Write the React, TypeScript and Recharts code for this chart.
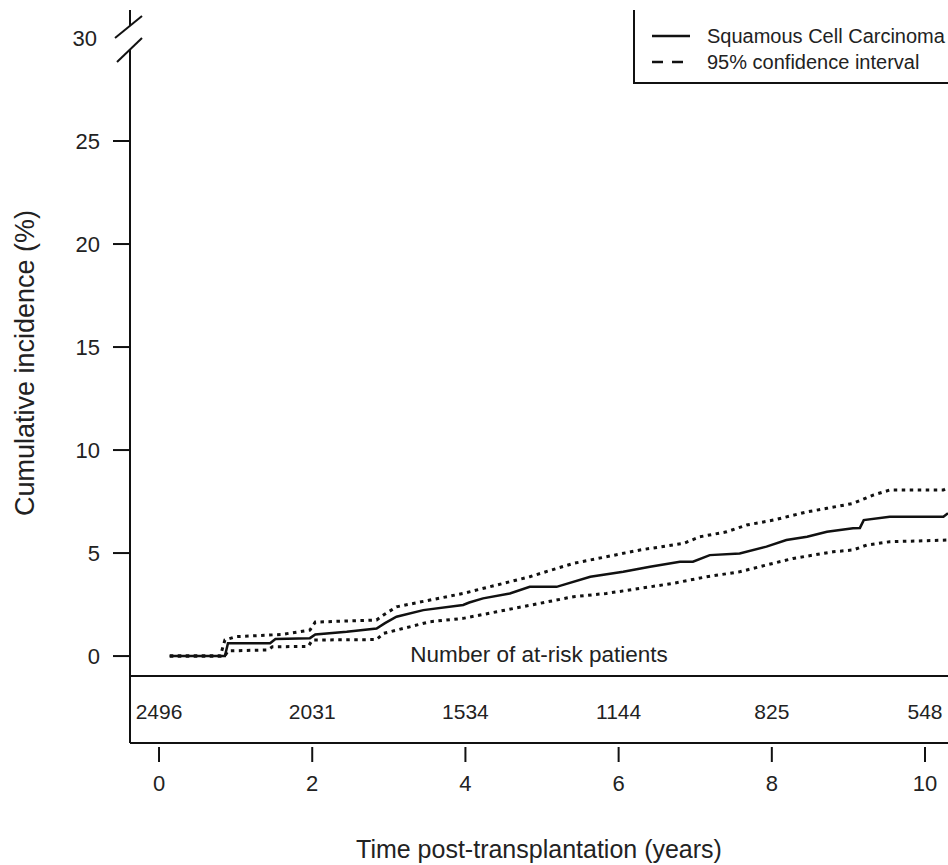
import React from 'react';
import { ComposedChart, Line, XAxis, YAxis, Scatter, ReferenceLine, Legend } from 'recharts';

// ---- data ----
const estTimes = [0.14, 0.86, 0.9, 1.45, 1.52, 1.97, 2.04, 2.45, 2.84, 2.95, 3.1, 3.45, 3.97, 4.05, 4.23, 4.58, 4.84, 5.19, 5.63, 6.06, 6.41, 6.8, 6.97, 7.19, 7.58, 7.93, 8.19, 8.46, 8.72, 9.06, 9.15, 9.2, 9.54, 10.24, 10.3];
const estValues = [0, 0, 0.62, 0.62, 0.83, 0.87, 1.05, 1.18, 1.34, 1.6, 1.91, 2.23, 2.48, 2.6, 2.8, 3.04, 3.36, 3.36, 3.85, 4.09, 4.34, 4.58, 4.58, 4.9, 4.98, 5.31, 5.63, 5.79, 6.03, 6.2, 6.22, 6.6, 6.76, 6.76, 6.93];

const hiTimes = [0.14, 0.8, 0.86, 1.0, 1.6, 1.97, 2.04, 2.84, 2.93, 3.1, 3.54, 3.97, 4.41, 4.84, 5.1, 5.41, 5.84, 6.28, 6.85, 7.06, 7.41, 7.67, 8.02, 8.46, 8.72, 9.06, 9.33, 9.54, 10.24, 10.3];
const hiValues = [0, 0, 0.78, 0.94, 1.05, 1.26, 1.65, 1.75, 1.99, 2.39, 2.72, 3.04, 3.45, 3.85, 4.15, 4.5, 4.82, 5.15, 5.47, 5.79, 6.03, 6.36, 6.6, 7.0, 7.17, 7.41, 7.82, 8.06, 8.06, 8.17];

const loTimes = [0.14, 0.86, 0.9, 1.42, 1.48, 1.95, 2.0, 2.84, 2.93, 3.54, 3.97, 4.41, 4.97, 5.41, 5.84, 6.41, 6.71, 7.15, 7.58, 7.93, 8.28, 8.54, 8.8, 9.06, 9.24, 9.54, 10.3];
const loValues = [0, 0, 0.25, 0.3, 0.45, 0.47, 0.78, 0.8, 1.1, 1.67, 1.83, 2.15, 2.56, 2.88, 3.04, 3.36, 3.53, 3.85, 4.09, 4.42, 4.74, 4.9, 5.06, 5.15, 5.39, 5.55, 5.63];

const riskTimes = [0, 2, 4, 6, 8, 10];
const riskCounts = [2496, 2031, 1534, 1144, 825, 548];

const xTicks = [0, 2, 4, 6, 8, 10];
const yTicks = [0, 5, 10, 15, 20, 25, 30];

const seriesName = 'Squamous Cell Carcinoma';
const ciName = '95% confidence interval';
const xTitle = 'Time post-transplantation (years)';
const yTitle = 'Cumulative incidence (%)';
const tableTitle = 'Number of at-risk patients';

// ---- layout / style ----
const FONT = '"Liberation Sans", Arial, Helvetica, sans-serif';
const INK = '#111';
const TXT = '#222';
const X_DOMAIN: [number, number] = [-0.379, 10.3];
const Y_DOMAIN: [number, number] = [-4.22, 31.36];
const TABLE_TOP = -0.97;
const RISK_ROW = -2.67;

const toSeries = (ts: number[], vs: number[]) => ts.map((t, i) => ({ t, v: vs[i] }));
const estData = toSeries(estTimes, estValues);
const hiData = toSeries(hiTimes, hiValues);
const loData = toSeries(loTimes, loValues);
const riskData = riskTimes.map((t, i) => ({ t, y: RISK_ROW, n: riskCounts[i] }));

const YTick = (props: any) => {
  const { x, y, payload } = props;
  const v = payload.value;
  if (v === 30) {
    return (
      <g>
        <rect x={x - 5} y={y - 12} width={10} height={24} fill="#fff" />
        <line x1={x - 15} y1={y} x2={x + 12} y2={y - 22} stroke={INK} strokeWidth={2} />
        <line x1={x - 13} y1={y + 24} x2={x + 12} y2={y} stroke={INK} strokeWidth={2} />
        <text x={x - 33} y={y} textAnchor="end" dominantBaseline="central" fontSize={22} fontFamily={FONT} fill={TXT}>
          {v}
        </text>
      </g>
    );
  }
  return (
    <g>
      <line x1={x - 17} y1={y} x2={x} y2={y} stroke={INK} strokeWidth={2} />
      <text x={x - 30} y={y} textAnchor="end" dominantBaseline="central" fontSize={22} fontFamily={FONT} fill={TXT}>
        {v}
      </text>
    </g>
  );
};

const XTick = (props: any) => {
  const { x, y, payload } = props;
  return (
    <g>
      <line x1={x} y1={y + 4} x2={x} y2={y + 19} stroke={INK} strokeWidth={2} />
      <text x={x} y={y + 40} textAnchor="middle" dominantBaseline="central" fontSize={22} fontFamily={FONT} fill={TXT}>
        {payload.value}
      </text>
    </g>
  );
};

const RiskLabel = (props: any) => {
  const { cx, cy, payload } = props;
  return (
    <text x={cx} y={cy} textAnchor="middle" dominantBaseline="central" fontSize={21} fontFamily={FONT} fill={TXT}>
      {payload.n}
    </text>
  );
};

const LegendBox = () => (
  <svg width={330} height={74} style={{ display: 'block' }}>
    <line x1={1} y1={0} x2={1} y2={73} stroke={INK} strokeWidth={2} />
    <line x1={0} y1={73} x2={330} y2={73} stroke={INK} strokeWidth={2} />
    <line x1={19} y1={26} x2={57} y2={26} stroke={INK} strokeWidth={2.5} />
    <text x={74} y={26} dominantBaseline="central" fontSize={20} fontFamily={FONT} fill={TXT}>
      {seriesName}
    </text>
    <line x1={19} y1={52} x2={57} y2={52} stroke={INK} strokeWidth={2.5} strokeDasharray="11 9" />
    <text x={74} y={52} dominantBaseline="central" fontSize={20} fontFamily={FONT} fill={TXT}>
      {ciName}
    </text>
  </svg>
);

export default function App() {
  return (
    <div
      style={{
        position: 'absolute',
        left: 0,
        top: 0,
        width: 948,
        height: 865,
        overflow: 'hidden',
        background: '#fff',
        fontFamily: FONT,
      }}
    >
      <ComposedChart width={948} height={865} margin={{ top: 10, right: 0, bottom: 0, left: 0 }}>
        <XAxis
          dataKey="t"
          type="number"
          domain={X_DOMAIN}
          allowDataOverflow
          ticks={xTicks}
          interval={0}
          height={122}
          tickSize={0}
          tickMargin={0}
          tickLine={false}
          axisLine={{ stroke: INK, strokeWidth: 2 }}
          tick={<XTick />}
          label={{ value: xTitle, position: 'insideBottom', offset: 7, fontSize: 25, fontFamily: FONT, fill: TXT }}
        />
        <XAxis
          xAxisId="top"
          orientation="top"
          dataKey="t"
          type="number"
          domain={X_DOMAIN}
          allowDataOverflow
          height={0}
          tick={false}
          tickLine={false}
          axisLine={{ stroke: INK, strokeWidth: 2 }}
        />
        <YAxis
          type="number"
          domain={Y_DOMAIN}
          allowDataOverflow
          ticks={yTicks}
          interval={0}
          width={130}
          tickSize={0}
          tickMargin={0}
          tickLine={false}
          axisLine={{ stroke: INK, strokeWidth: 2 }}
          tick={<YTick />}
          label={{
            value: yTitle,
            content: () => (
              <text
                x={25}
                y={363}
                transform="rotate(-90 25 363)"
                textAnchor="middle"
                dominantBaseline="central"
                fontSize={27}
                fontFamily={FONT}
                fill={TXT}
              >
                {yTitle}
              </text>
            ),
          }}
        />
        <ReferenceLine
          y={TABLE_TOP}
          stroke={INK}
          strokeWidth={2}
          label={{ value: tableTitle, position: 'top', offset: 14, fontSize: 22.5, fontFamily: FONT, fill: TXT }}
        />
        <Line data={loData} dataKey="v" type="linear" stroke={INK} strokeWidth={3} strokeDasharray="3.5 4.5" dot={false} activeDot={false} isAnimationActive={false} />
        <Line data={hiData} dataKey="v" type="linear" stroke={INK} strokeWidth={3} strokeDasharray="3.5 4.5" dot={false} activeDot={false} isAnimationActive={false} />
        <Line data={estData} dataKey="v" type="linear" stroke={INK} strokeWidth={2.5} dot={false} activeDot={false} isAnimationActive={false} />
        <Scatter data={riskData} dataKey="y" shape={<RiskLabel />} isAnimationActive={false} />
        <Legend
          layout="horizontal"
          verticalAlign="middle"
          align="center"
          wrapperStyle={{ top: 10, left: 633, width: 330, height: 74 }}
          content={() => <LegendBox />}
        />
      </ComposedChart>
    </div>
  );
}
